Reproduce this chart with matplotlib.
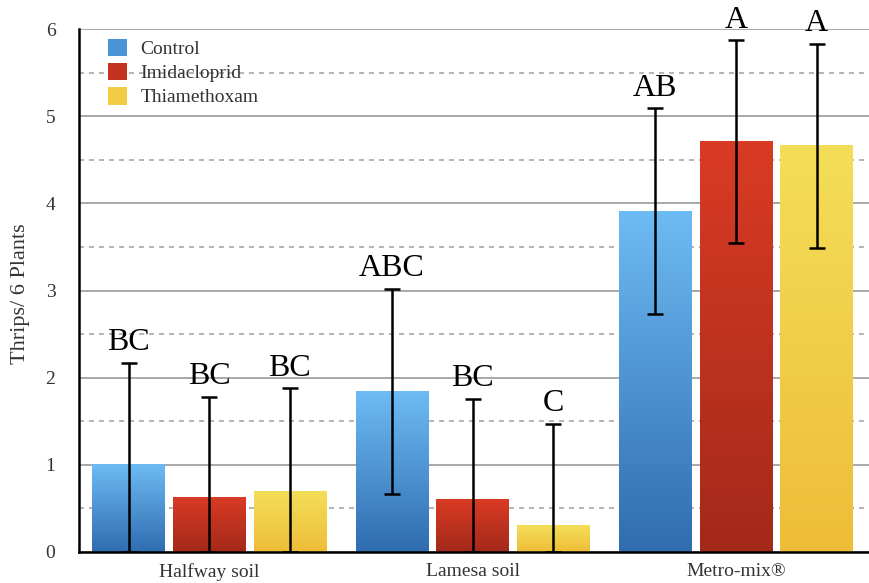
import numpy as np
import matplotlib
matplotlib.use('Agg')
import matplotlib.pyplot as plt
from matplotlib.colors import LinearSegmentedColormap
from matplotlib.patches import Patch
from matplotlib.ticker import MultipleLocator

# data
sites = ['Halfway soil', 'Lamesa soil', 'Metro-mix®']
treatments = ['Control', 'Imidacloprid', 'Thiamethoxam']
control = [1.00, 1.84, 3.91]
imidacloprid = [0.62, 0.60, 4.71]
thiamethoxam = [0.69, 0.30, 4.66]
control_err = [1.17, 1.18, 1.18]
imidacloprid_err = [1.16, 1.16, 1.16]
thiamethoxam_err = [1.19, 1.17, 1.17]
control_letters = ['BC', 'ABC', 'AB']
imidacloprid_letters = ['BC', 'BC', 'A']
thiamethoxam_letters = ['BC', 'C', 'A']

series = [
    (control, control_err, control_letters, ('#6dbbf4', '#2f6cb0')),
    (imidacloprid, imidacloprid_err, imidacloprid_letters, ('#d93b24', '#a3291b')),
    (thiamethoxam, thiamethoxam_err, thiamethoxam_letters, ('#f4de58', '#eebd38')),
]
legend_colors = ['#4a94d8', '#c4331f', '#f2cc45']

plt.rcParams['font.family'] = ['Liberation Serif', 'DejaVu Serif']

fig = plt.figure(figsize=(8.7, 5.83), dpi=100)
ax = fig.add_axes([0.0908, 0.0532, 0.909, 0.8970])

x = np.arange(len(sites))
width = 0.275
step = 0.306
grad = np.linspace(1, 0, 256).reshape(-1, 1)

for i, (vals, errs, letters, (top_c, bot_c)) in enumerate(series):
    pos = x + (i - 1) * step
    cmap = LinearSegmentedColormap.from_list('g%d' % i, [bot_c, top_c])
    bars = ax.bar(pos, vals, width, color='none', edgecolor='none', zorder=2)
    # vertical gradient fill for each bar
    for b in bars:
        bx, by = b.get_x(), b.get_y()
        bw, bh = b.get_width(), b.get_height()
        ax.imshow(grad, cmap=cmap, aspect='auto', extent=(bx, bx + bw, by, by + bh),
                  zorder=2, interpolation='bilinear', vmin=0, vmax=1)
    lower = [min(e, v) for v, e in zip(vals, errs)]
    ax.errorbar(pos, vals, yerr=[lower, errs], fmt='none', ecolor='black',
                elinewidth=1.8, capsize=6, capthick=1.8, zorder=3)
    for p, v, e, lab in zip(pos, vals, errs, letters):
        ax.annotate(lab, (p, v + e), xytext=(0, 4), textcoords='offset points',
                    ha='center', va='bottom', fontsize=23, color='black')

ax.set_xlim(-0.494, 2.508)
ax.set_ylim(0, 6)
ax.yaxis.set_major_locator(MultipleLocator(1))
ax.yaxis.set_minor_locator(MultipleLocator(0.5))
ax.grid(which='major', axis='y', color='#9a9a9a', linewidth=1.2, zorder=0)
ax.grid(which='minor', axis='y', color='#a8a8a8', linewidth=1.2,
        linestyle=(0, (3, 3)), zorder=0)
ax.set_axisbelow(True)

ax.set_xticks(x)
ax.set_xticklabels(sites)
ax.tick_params(axis='both', which='both', length=0, labelsize=14, colors='#333333')
ax.tick_params(axis='y', pad=17)
ax.tick_params(axis='x', pad=8)

for s in ['top', 'right']:
    ax.spines[s].set_visible(False)
ax.spines['left'].set_linewidth(1.8)
ax.spines['bottom'].set_linewidth(1.8)

ax.set_ylabel('Thrips/ 6 Plants', fontsize=16, color='#333333')
ax.yaxis.set_label_coords(-0.062, 0.493)

handles = [Patch(facecolor=c, edgecolor='none') for c in legend_colors]
ax.legend(handles, treatments, loc='upper left', bbox_to_anchor=(0.014, 1.015),
          frameon=False, fontsize=14, handlelength=1.0, handleheight=1.0,
          labelspacing=0.25, handletextpad=0.7, labelcolor='#333333')

fig.savefig('out.png', dpi=100)
